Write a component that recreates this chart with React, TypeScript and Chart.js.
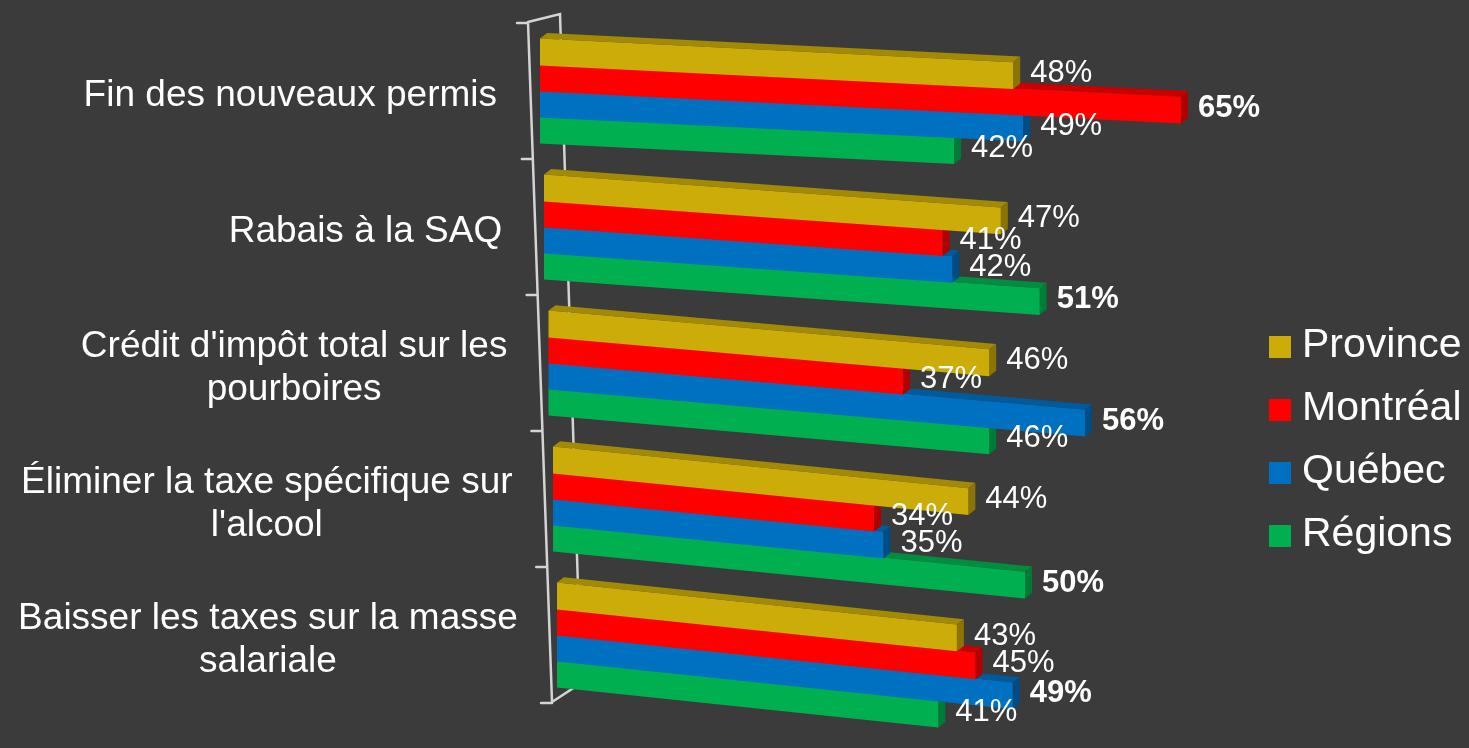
import React, { useEffect, useRef } from "react";
import { Chart, registerables } from "chart.js";

Chart.register(...registerables);

// ---------- data ----------
const categories: string[][] = [
  ["Fin des nouveaux permis"],
  ["Rabais à la SAQ"],
  ["Crédit d'impôt total sur les", "pourboires"],
  ["Éliminer la taxe spécifique sur", "l'alcool"],
  ["Baisser les taxes sur la masse", "salariale"],
];
const seriesNames = ["Province", "Montréal", "Québec", "Régions"];
const province = [48, 47, 46, 44, 43];
const montreal = [65, 41, 37, 34, 45];
const quebec = [49, 42, 56, 35, 49];
const regions = [42, 51, 46, 50, 41];
const seriesValues = [province, montreal, quebec, regions];

// ---------- style ----------
const BG = "#3b3b3b";
const FONT = "'Liberation Sans', Arial, Helvetica, sans-serif";
const frontColors = ["#CCAC08", "#FF0000", "#0070C0", "#00B050"];
const topColors = ["#A38A05", "#C80000", "#005A9B", "#008D40"];
const sideColors = ["#8A7404", "#B00000", "#004D85", "#007A37"];
// perspective per row: skew (dy/dx), horizontal start shift, horizontal scale
const rowSkew = [0.05, 0.072, 0.088, 0.1, 0.105];
const rowShift = [10, 14, 18.5, 23, 27];
const rowScale = [0.986, 0.972, 0.958, 0.944, 0.93];
const DX = 7;
const DY = 6;
const AXIS_COLOR = "#d4d4d4";

function rowTransform(j: number, L: number) {
  const k = rowSkew[j] ?? 0.08;
  const a = rowScale[j] ?? 0.95;
  const X = L + (rowShift[j] ?? 15);
  return { k, a, X };
}

const threeDPlugin = {
  id: "threeDBars",
  beforeDatasetsDraw(chart: any) {
    const ctx: CanvasRenderingContext2D = chart.ctx;
    const area = chart.chartArea;
    const L = area.left;
    const yScale = chart.scales.y;
    const n = categories.length;

    // 3D frame (axis walls), drawn behind the bars
    const topY = area.top - 1;
    const botY = area.bottom - 1;
    const fx = (yy: number) => L - 2 + ((yy - topY) / (botY - topY)) * 24;
    ctx.save();
    ctx.strokeStyle = AXIS_COLOR;
    ctx.lineWidth = 2.5;
    ctx.lineCap = "round";
    ctx.beginPath();
    ctx.moveTo(fx(topY), topY);
    ctx.lineTo(fx(botY), botY);
    ctx.moveTo(fx(topY), topY);
    ctx.lineTo(fx(topY) + 32, topY - 8);
    ctx.lineTo(fx(botY) + 29, botY - 19);
    ctx.lineTo(fx(botY), botY);
    for (let i = 0; i <= n; i++) {
      const yy = yScale.getPixelForValue(i - 0.5);
      ctx.moveTo(fx(yy) - 11, yy);
      ctx.lineTo(fx(yy), yy);
    }
    ctx.stroke();
    ctx.restore();

    const metas = chart.getSortedVisibleDatasetMetas();
    for (let m = metas.length - 1; m >= 0; m--) {
      const meta = metas[m];
      const di = meta.index;
      meta.data.forEach((el: any, j: number) => {
        const { x, y, base, height } = el.getProps(["x", "y", "base", "height"], true);
        const { k, a, X } = rowTransform(j, L);
        const top = y - height / 2;
        const bottom = y + height / 2;
        ctx.save();
        ctx.transform(a, k * a, 0, 1, X - a * L, -k * a * L);
        const dx = DX / a;
        // top face
        ctx.fillStyle = topColors[di];
        ctx.beginPath();
        ctx.moveTo(base, top);
        ctx.lineTo(base + dx, top - DY);
        ctx.lineTo(x + dx, top - DY);
        ctx.lineTo(x, top);
        ctx.closePath();
        ctx.fill();
        // right face
        ctx.fillStyle = sideColors[di];
        ctx.beginPath();
        ctx.moveTo(x, top);
        ctx.lineTo(x + dx, top - DY);
        ctx.lineTo(x + dx, bottom - DY);
        ctx.lineTo(x, bottom);
        ctx.closePath();
        ctx.fill();
        // front face drawn by the library element
        el.draw(ctx, area);
        ctx.restore();
      });
    }

    // value labels
    ctx.save();
    ctx.fillStyle = "#ffffff";
    ctx.textAlign = "left";
    ctx.textBaseline = "middle";
    metas.forEach((meta: any) => {
      const di = meta.index;
      meta.data.forEach((el: any, j: number) => {
        const { x, y } = el.getProps(["x", "y"], true);
        const v = seriesValues[di][j];
        const maxV = Math.max(...seriesValues.map((s) => s[j]));
        const { k, a, X } = rowTransform(j, L);
        const xe = X + a * (x - L);
        const ye = y + k * (xe - X);
        ctx.font = (v === maxV ? "bold " : "") + "31px " + FONT;
        ctx.fillText(v + "%", xe + DX + 10, ye - 2);
      });
    });
    ctx.restore();
    return false;
  },
  afterDraw(chart: any) {
    const ctx: CanvasRenderingContext2D = chart.ctx;
    const area = chart.chartArea;
    const yScale = chart.scales.y;

    // category labels (multi-line, centred lines, right-aligned blocks)
    ctx.save();
    ctx.fillStyle = "#ffffff";
    ctx.textAlign = "center";
    ctx.textBaseline = "middle";
    ctx.font = "37px " + FONT;
    const lh = 43;
    categories.forEach((lines, i) => {
      const w = Math.max(...lines.map((l) => ctx.measureText(l).width));
      const right = area.left - 33 + 5.2 * i;
      const cx = right - w / 2;
      const cy = yScale.getPixelForValue(i) + 5;
      lines.forEach((l, li) => {
        ctx.fillText(l, cx, cy + (li - (lines.length - 1) / 2) * lh);
      });
    });
    ctx.restore();

    // legend
    ctx.save();
    ctx.font = "41px " + FONT;
    ctx.textAlign = "left";
    ctx.textBaseline = "middle";
    const lx = area.right + 19;
    const ly0 = 347;
    seriesNames.forEach((name, i) => {
      const cy = ly0 + i * 63;
      ctx.fillStyle = frontColors[i];
      ctx.fillRect(lx, cy - 11, 22, 22);
      ctx.fillStyle = "#ffffff";
      ctx.fillText(name, lx + 33, cy - 1);
    });
    ctx.restore();
  },
};

export default function App() {
  const canvasRef = useRef<HTMLCanvasElement | null>(null);

  useEffect(() => {
    if (!canvasRef.current) return;
    const chart = new Chart(canvasRef.current, {
      type: "bar",
      data: {
        labels: categories.map((c) => c.join(" ")),
        datasets: seriesNames.map((name, i) => ({
          label: name,
          data: seriesValues[i],
          backgroundColor: frontColors[i],
          borderWidth: 0,
          categoryPercentage: 0.765,
          barPercentage: 1.03,
        })),
      },
      options: {
        indexAxis: "y",
        responsive: true,
        maintainAspectRatio: false,
        animation: false,
        layout: { padding: { top: 23, bottom: 45, left: 0, right: 219 } },
        scales: {
          x: { display: false, min: 0, max: 72 },
          y: {
            type: "category",
            offset: true,
            grid: { display: false },
            border: { display: false },
            ticks: { display: false },
            afterFit: (s: any) => {
              s.width = 530;
            },
          },
        },
        plugins: {
          legend: { display: false },
          tooltip: { enabled: false },
        },
      },
      plugins: [threeDPlugin],
    } as any);
    return () => chart.destroy();
  }, []);

  return (
    <div
      style={{
        position: "fixed",
        left: 0,
        top: 0,
        width: "1469px",
        height: "748px",
        background: BG,
      }}
    >
      <canvas ref={canvasRef} />
    </div>
  );
}
